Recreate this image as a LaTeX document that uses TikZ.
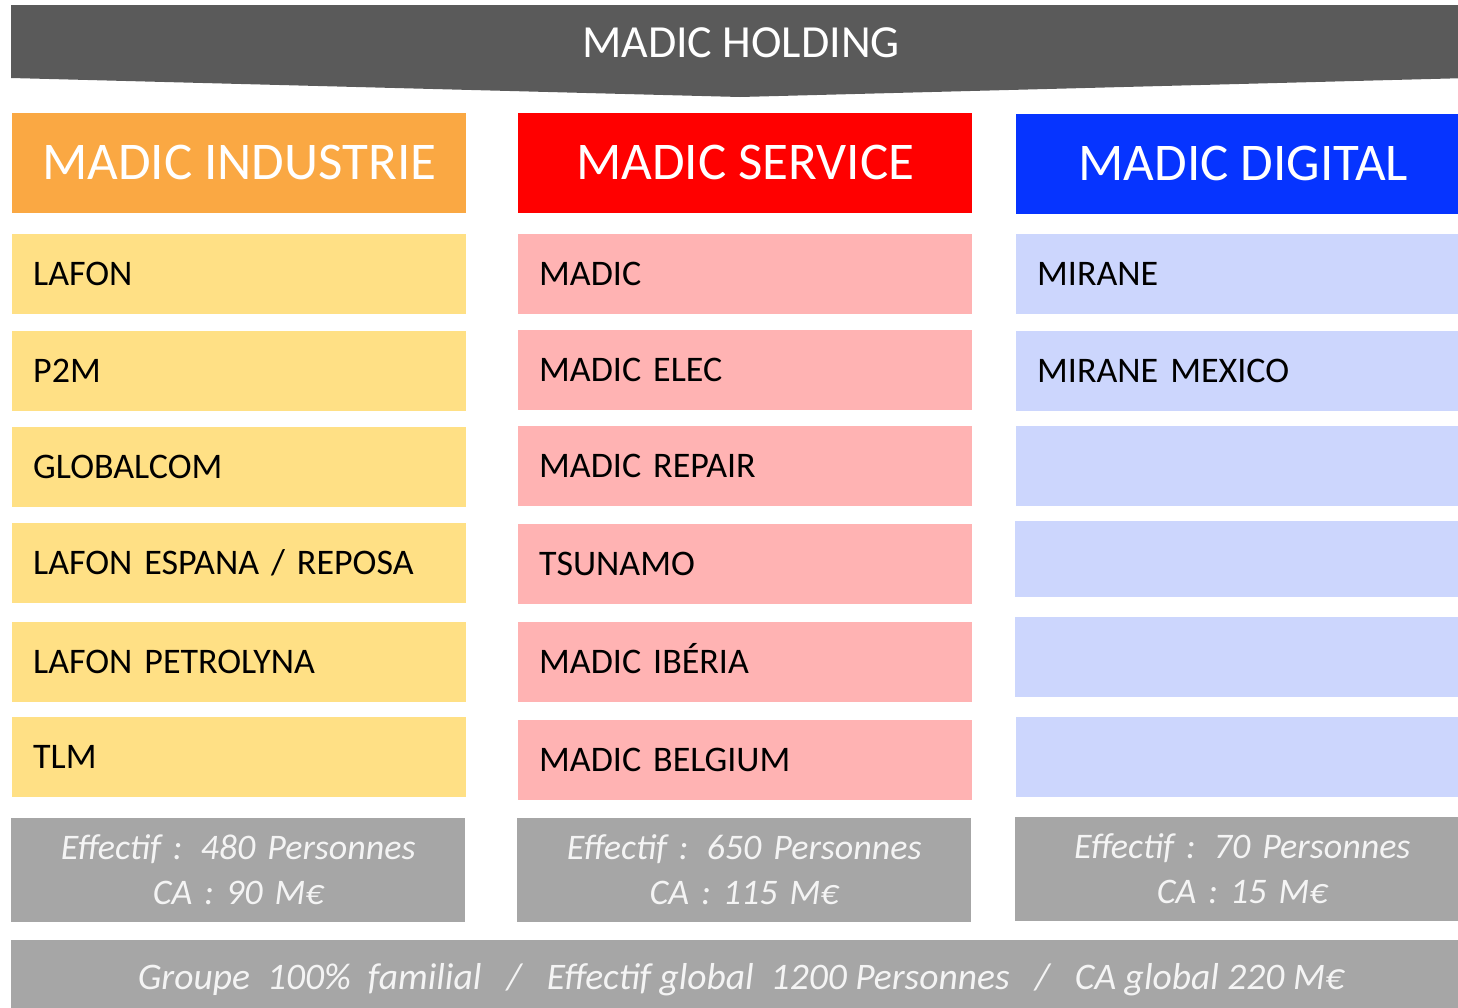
\documentclass[tikz,border=0pt]{standalone}
\usepackage{fontspec}
\setmainfont{Carlito}
\definecolor{bannergray}{HTML}{5A5A5A}
\definecolor{indorange}{HTML}{FAA843}
\definecolor{servred}{HTML}{FF0000}
\definecolor{digblue}{HTML}{0634FF}
\definecolor{indrow}{HTML}{FFE085}
\definecolor{servrow}{HTML}{FFB3B3}
\definecolor{digrow}{HTML}{CCD6FD}
\definecolor{statgray}{HTML}{A6A6A6}
\definecolor{stattext}{HTML}{F4F4F4}
\begin{document}
\begin{tikzpicture}[x=1pt,y=-1pt,
  header/.style={rectangle, anchor=north west, inner sep=0pt, minimum width=454pt, minimum height=100pt,
    text=white, font=\fontsize{53}{60}\selectfont, text height=33.5pt, text depth=0pt},
  rowbox/.style={rectangle, anchor=north west, inner xsep=21pt, inner ysep=0pt, minimum width=454pt,
    minimum height=79.5pt, text width=412pt, align=left, text=black,
    font=\fontsize{36}{43}\selectfont, text height=22.75pt, text depth=0pt},
  statbox/.style={rectangle, anchor=north west, inner sep=0pt, minimum width=454pt, minimum height=104pt,
    fill=statgray, text width=454pt, align=center, text=stattext,
    font=\fontsize{36}{45}\selectfont\itshape, text height=22.75pt, text depth=45pt},
  titletext/.style={text=white, inner sep=0pt, font=\fontsize{46}{52}\selectfont, text height=29pt, text depth=0pt},
  bottomtext/.style={text=stattext, inner sep=0pt, font=\fontsize{37.5}{44}\selectfont\itshape, text height=23.7pt, text depth=0pt}
]
\useasboundingbox (0,0) rectangle (1458,1007);

% banner
\fill[bannergray] (11,5) -- (1469,5) -- (1469,78) -- (740,97) -- (11,78) -- cycle;
\node[titletext] (holding) at (741,42.5) {MADIC HOLDING};

% headers
\node[header, fill=indorange] (hind) at (12,113) {MADIC INDUSTRIE};
\node[header, fill=servred] (hserv) at (518,113) {MADIC SERVICE};
\node[header, fill=digblue] (hdig) at (1016,114) {MADIC DIGITAL};

% industrie rows
\node[rowbox, fill=indrow] (i1) at (12,234) {LAFON};
\node[rowbox, fill=indrow] (i2) at (12,331) {P2M};
\node[rowbox, fill=indrow] (i3) at (12,427) {GLOBALCOM};
\node[rowbox, fill=indrow] (i4) at (12,523) {LAFON ESPANA / REPOSA};
\node[rowbox, fill=indrow] (i5) at (12,622) {LAFON PETROLYNA};
\node[rowbox, fill=indrow] (i6) at (12,717) {TLM};

% service rows
\node[rowbox, fill=servrow] (s1) at (518,234) {MADIC};
\node[rowbox, fill=servrow] (s2) at (518,330) {MADIC ELEC};
\node[rowbox, fill=servrow] (s3) at (518,426) {MADIC REPAIR};
\node[rowbox, fill=servrow] (s4) at (518,524) {TSUNAMO};
\node[rowbox, fill=servrow] (s5) at (518,622) {MADIC IBÉRIA};
\node[rowbox, fill=servrow] (s6) at (518,720) {MADIC BELGIUM};

% digital rows
\node[rowbox, fill=digrow] (d1) at (1016,234) {MIRANE};
\node[rowbox, fill=digrow] (d2) at (1016,331) {MIRANE MEXICO};
\node[rowbox, fill=digrow] (d3) at (1016,426) {};
\node[rowbox, fill=digrow, minimum height=76pt] (d4) at (1015,521) {};
\node[rowbox, fill=digrow] (d5) at (1015,617) {};
\node[rowbox, fill=digrow] (d6) at (1016,717) {};

% stats
\node[statbox] (sti) at (11,818) {Effectif : 480 Personnes\\CA : 90 M€};
\node[statbox] (sts) at (517,818) {Effectif : 650 Personnes\\CA : 115 M€};
\node[statbox] (std) at (1015,817) {Effectif : 70 Personnes\\CA : 15 M€};

% bottom bar
\fill[statgray] (11,940) rectangle (1469,1010);
\node[bottomtext] (global) at (741,978) {Groupe~~100\%~~familial~~~/~~~Effectif global~~1200 Personnes~~~/~~~CA global 220 M€};
\end{tikzpicture}
\end{document}
